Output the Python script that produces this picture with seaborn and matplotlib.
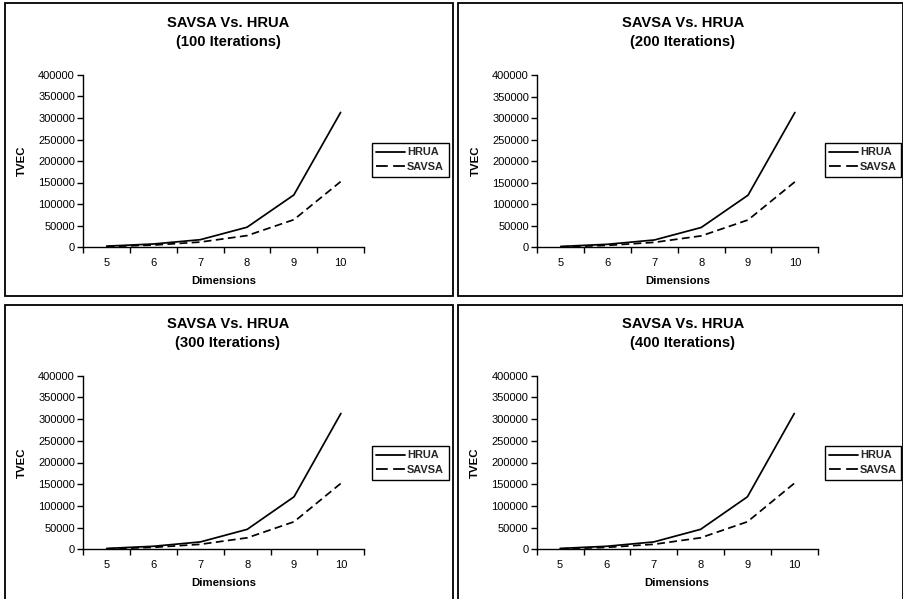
import matplotlib
matplotlib.use("Agg")
import matplotlib.pyplot as plt
from matplotlib.patches import Rectangle
from matplotlib.ticker import MultipleLocator, FixedLocator, FuncFormatter
import pandas as pd
import seaborn as sns

# Problem sizes and total evaluation counts per algorithm
dimensions = [5, 6, 7, 8, 9, 10]
hrua = [2000, 7000, 17000, 46000, 121000, 313000]
savsa = [1000, 4500, 11500, 26500, 63500, 152000]
iterations = [100, 200, 300, 400]
series_names = ["HRUA", "SAVSA"]

sns.set_theme(style="white")
plt.rcParams["font.family"] = ["Liberation Sans", "DejaVu Sans"]

W, H = 904, 599
fig = plt.figure(figsize=(W / 100, H / 100), dpi=100)
fig.patch.set_facecolor("white")

df = pd.DataFrame({
    "Dimensions": dimensions * 2,
    "TVEC": hrua + savsa,
    "Algorithm": [series_names[0]] * len(dimensions) + [series_names[1]] * len(dimensions),
})


def fx(px):
    return px / W


def fy(py):
    return 1 - py / H


# panel layout in pixels: (border box, axes box, legend top-left, title centre x)
panels = [
    dict(box=(5, 3, 453, 296), ax=(83.3, 75.0, 364.0, 247.0), leg=(372, 143), tx=228),
    dict(box=(458, 3, 903, 296), ax=(537.3, 75.0, 818.3, 247.3), leg=(825, 143), tx=683),
    dict(box=(5, 305, 453, 603), ax=(83.3, 375.7, 364.3, 549.3), leg=(372, 446), tx=228),
    dict(box=(458, 305, 903, 603), ax=(536.7, 375.7, 817.7, 549.3), leg=(825, 446), tx=683),
]

for it, p in zip(iterations, panels):
    bx0, by0, bx1, by1 = p["box"]
    fig.patches.append(Rectangle((fx(bx0), fy(by1)), fx(bx1 - bx0), (by1 - by0) / H,
                                 transform=fig.transFigure, fill=False,
                                 edgecolor="black", linewidth=1.3, zorder=0))
    ax0, ay0, ax1, ay1 = p["ax"]
    ax = fig.add_axes([fx(ax0), fy(ay1), fx(ax1 - ax0), (ay1 - ay0) / H])
    ax.set_facecolor("none")

    sns.lineplot(data=df, x="Dimensions", y="TVEC", style="Algorithm",
                 dashes={"HRUA": "", "SAVSA": (4.5, 2.5)}, color="black",
                 linewidth=1.25, ax=ax)

    ax.set_xlim(4.5, 10.5)
    ax.set_ylim(0, 400000)
    ax.yaxis.set_major_locator(MultipleLocator(50000))
    ax.yaxis.set_major_formatter(FuncFormatter(lambda v, _: f"{int(v)}"))
    ax.xaxis.set_major_locator(FixedLocator(dimensions))
    ax.xaxis.set_minor_locator(FixedLocator([d - 0.5 for d in dimensions] + [dimensions[-1] + 0.5]))
    ax.tick_params(axis="x", which="major", length=0, pad=8, labelsize=8, colors="black")
    ax.tick_params(axis="x", which="minor", length=4, width=1, direction="out", bottom=True, color="black")
    ax.tick_params(axis="y", which="major", length=4, width=1, direction="out", left=True,
                   pad=2, labelsize=8, colors="black")

    for side in ("top", "right"):
        ax.spines[side].set_visible(False)
    for side in ("left", "bottom"):
        ax.spines[side].set_color("black")
        ax.spines[side].set_linewidth(1.0)

    ax.set_xlabel("Dimensions", fontsize=8.2, fontweight="bold", color="black")
    ax.set_ylabel("TVEC", fontsize=8.2, fontweight="bold", color="black")
    ax.xaxis.set_label_coords(0.5, -34 / (ay1 - ay0))
    ax.xaxis.label.set_va("center")
    ax.yaxis.set_label_coords(-61.5 / (ax1 - ax0), 0.5)
    ax.yaxis.label.set_va("center")

    fig.text(fx(p["tx"]), fy(ay0 - 52), "SAVSA Vs. HRUA", ha="center", va="center",
             fontsize=10.6, fontweight="bold", color="black")
    fig.text(fx(p["tx"]), fy(ay0 - 33), f"({it} Iterations)", ha="center", va="center",
             fontsize=10.6, fontweight="bold", color="black")

    lx, ly = p["leg"]
    sns.move_legend(ax, "upper left", bbox_to_anchor=(fx(lx), fy(ly)),
                    bbox_transform=fig.transFigure, title=None, frameon=True,
                    fancybox=False, borderpad=0.4, labelspacing=0.45,
                    handlelength=2.6, handletextpad=0.2, borderaxespad=0,
                    prop={"size": 7.9, "weight": "bold"})
    leg = ax.get_legend()
    leg.get_frame().set_edgecolor("black")
    leg.get_frame().set_linewidth(1.0)
    leg.get_frame().set_alpha(1)
    for h, name in zip(leg.get_lines(), series_names):
        h.set_color("black")
        h.set_linewidth(1.3)
        if name == "SAVSA":
            h.set_linestyle((0, (6.5, 3)))

fig.savefig("out.png", dpi=100, facecolor="white")
